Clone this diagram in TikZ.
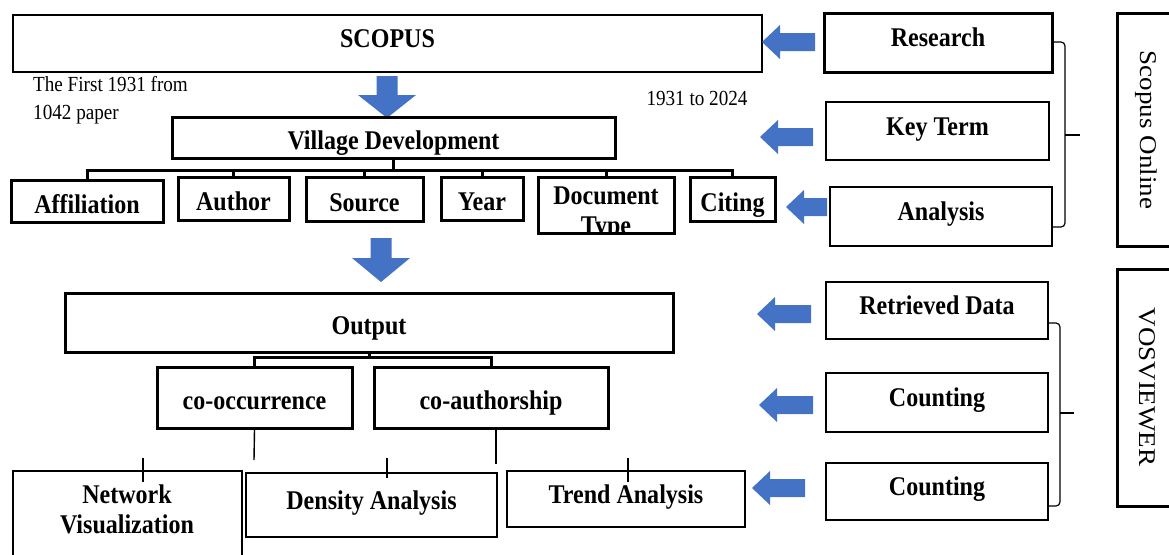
\documentclass[tikz,border=0pt]{standalone}
\usepackage{fontspec}
\setmainfont{Liberation Serif}
\usetikzlibrary{calc}
\definecolor{ablue}{RGB}{68,114,196}
\newcommand{\sqz}[1]{\scalebox{0.89}[1]{#1}}
\newcommand{\vsqz}[1]{\scalebox{1}[0.89]{#1}}
% left block arrow: tip x, tail x, y
\newcommand{\larr}[3]{\fill[ablue] (#1,#3) -- ({#1+18},{#3-17}) -- ({#1+18},{#3-9}) -- (#2,{#3-9}) -- (#2,{#3+9}) -- ({#1+18},{#3+9}) -- ({#1+18},{#3+17}) -- cycle;}
% down block arrow: x, top, head start, tip
\newcommand{\darr}[4]{\fill[ablue] (#1,#4) -- ({#1-29},#3) -- ({#1-10.5},#3) -- ({#1-10.5},#2) -- ({#1+10.5},#2) -- ({#1+10.5},#3) -- ({#1+29},#3) -- cycle;}
% box: name, x1, y1, x2, y2, style, text
\newcommand{\bx}[7]{\node[#6, minimum width={(#4-#2)*1pt}, minimum height={(#5-#3)*1pt}] (#1) at ({(#2+#4)/2},{(#3+#5)/2}) {#7};}
\tikzset{
  box/.style={draw, inner sep=0pt, text height=24pt, text depth=0pt,
    font=\fontsize{27}{30}\selectfont\bfseries, line width=1.4pt},
  thk/.style={line width=3pt},
  hi/.style={text height=20pt, text depth=12pt},
  lbl/.style={inner sep=0pt, align=center, font=\fontsize{27}{30}\selectfont\bfseries},
  rot/.style={inner sep=0pt, rotate=-90, font=\fontsize{27}{30}\selectfont},
  small/.style={inner sep=0pt, font=\fontsize{21.5}{24}\selectfont},
  conn/.style={line width=3pt},
  tline/.style={line width=1.4pt},
  brace/.style={line width=1.2pt, rounded corners=4pt},
}
\begin{document}
\begin{tikzpicture}[x=1pt,y=-1pt]
\useasboundingbox (0,0) rectangle (1169,554);
\clip (0,0) rectangle (1169,554);

% ---------- upper left ----------
\bx{scopus}{13}{15}{762}{72}{box,hi}{\sqz{SCOPUS}}
\node[small, anchor=base west] (note1) at (33,91) {\sqz{The First 1931 from}};
\node[small, anchor=base west] (note2) at (33,119) {\sqz{1042 paper}};
\node[small, anchor=base] (years) at (697,105) {\sqz{1931 to 2024}};
\darr{387}{76}{95}{118}
\bx{village}{172}{117}{615}{158}{box,thk}{\sqz{Village Development}}
\bx{aff}{11}{180}{163}{222}{box,thk}{\sqz{Affiliation}}
\bx{auth}{178}{177}{289}{220}{box,thk}{\sqz{Author}}
\bx{src}{306}{177}{423}{221}{box,thk}{\sqz{Source}}
\bx{year}{441}{177}{523}{220}{box,thk}{\sqz{Year}}
\bx{doc}{538}{177}{674}{233}{box,thk}{}
\begin{scope}
  \clip (doc.south west) rectangle (doc.north east);
  \node[lbl, anchor=north] (doclbl) at (606,187) {\sqz{Document}\\\sqz{Type}};
\end{scope}
\bx{cit}{690}{177}{775}{221}{box,thk}{\sqz{Citing}}

\coordinate (bar1) at (0,170);
\draw[conn] (village.south) -- (village.south |- bar1);
\draw[conn] (aff.north) -- (aff.north |- bar1) -- (cit.north |- bar1) -- (cit.north);
\foreach \n in {auth,src,year,doc} \draw[conn] (\n.north) -- (\n.north |- bar1);

% ---------- lower left ----------
\darr{381}{238}{258}{282}
\bx{output}{65}{293}{673}{352}{box,thk}{\sqz{Output}}
\bx{cooc}{157}{367}{352}{428}{box,thk}{\sqz{co-occurrence}}
\bx{coauth}{374}{367}{608}{428}{box,thk}{\sqz{co-authorship}}
\coordinate (bar2) at (0,357);
\draw[conn] (output.south) -- (output.south |- bar2);
\draw[conn] (cooc.north) -- (cooc.north |- bar2) -- (coauth.north |- bar2) -- (coauth.north);

\bx{netvis}{13}{471}{242}{600}{box}{}
\node[lbl, anchor=north] (netvislbl) at (127,485) {\sqz{Network}\\\sqz{Visualization}};
\bx{density}{246}{473}{497}{537}{box,hi}{\sqz{Density Analysis}}
\bx{trend}{507}{471}{745}{527}{box,hi}{\sqz{Trend Analysis}}

\coordinate (c1) at (254,460);
\coordinate (c2) at (496,464);
\draw[tline] (cooc.south) -- (c1);
\draw[tline] (coauth.south -| c2) -- (c2);
\coordinate (t1a) at (143,458); \coordinate (t1b) at (143,482);
\coordinate (t2a) at (387,458); \coordinate (t2b) at (387,478);
\coordinate (t3a) at (628,458); \coordinate (t3b) at (628,482);
\draw[tline] (t1a) -- (t1b);
\draw[tline] (t2a) -- (t2b);
\draw[tline] (t3a) -- (t3b);

% ---------- right column ----------
\bx{research}{824}{13}{1052}{72}{box,thk,hi}{\sqz{Research}}
\bx{keyterm}{826}{102}{1049}{160}{box,hi}{\sqz{Key Term}}
\bx{analysis}{830}{187}{1052}{246}{box,hi}{\sqz{Analysis}}
\bx{retrieved}{826}{282}{1048}{339}{box,hi}{\sqz{Retrieved Data}}
\bx{count1}{826}{373}{1048}{432}{box,hi}{\sqz{Counting}}
\bx{count2}{826}{463}{1048}{520}{box,hi}{\sqz{Counting}}

\larr{762}{815}{42}
\larr{760}{813}{137}
\larr{786}{827}{207}
\larr{757}{811}{314}
\larr{759}{813}{405}
\larr{752}{805}{488}

% braces
\coordinate (b1t) at (1052,42); \coordinate (b1b) at (1052,227);
\coordinate (b1m) at (1065,135); \coordinate (b1k) at (1080,135);
\draw[brace] (b1t) -- (b1t -| b1m) -- (b1b -| b1m) -- (b1b);
\draw[tline, line width=1.2pt] (b1m) -- (b1k);
\coordinate (b2t) at (1048,323); \coordinate (b2b) at (1048,506);
\coordinate (b2m) at (1060,413); \coordinate (b2k) at (1074,413);
\draw[brace] (b2t) -- (b2t -| b2m) -- (b2b -| b2m) -- (b2b);
\draw[tline, line width=1.2pt] (b2m) -- (b2k);

% side boxes
\bx{sonline}{1117}{13}{1190}{246}{box,thk}{}
\node[rot] (sonlinelbl) at (1146,130) {\vsqz{Scopus Online}};
\bx{vosv}{1117}{269}{1190}{506}{box,thk}{}
\node[rot] (vosvlbl) at (1147,387) {\vsqz{VOSVIEWER}};
\end{tikzpicture}
\end{document}
